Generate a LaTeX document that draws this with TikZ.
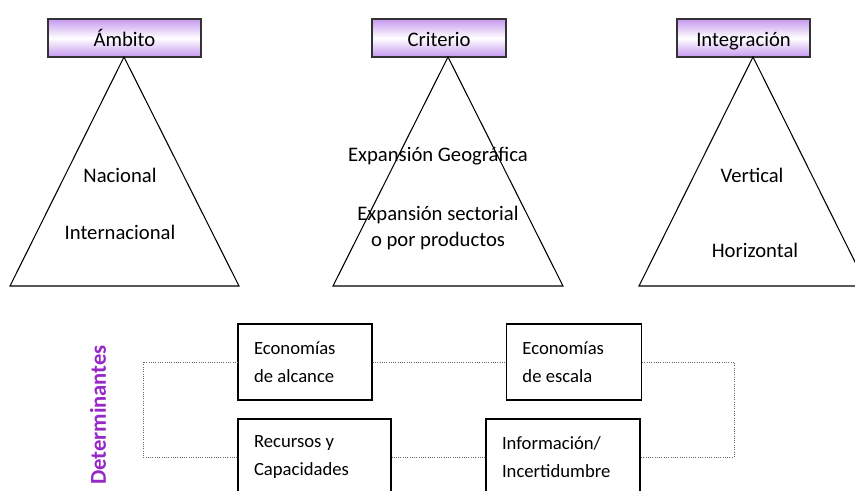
\documentclass[tikz,border=0pt]{standalone}
\usepackage{fontspec}
\setmainfont{Carlito}
\usetikzlibrary{positioning}

\definecolor{hdrviolet}{RGB}{198,152,240}
\definecolor{detpurple}{RGB}{150,40,200}

\begin{document}
\begin{tikzpicture}[x=0.75pt,y=-0.75pt,line width=0.8pt]
  \tikzstyle{header}=[draw=black!80,line width=1.1pt,top color=hdrviolet,bottom color=hdrviolet,middle color=white,minimum height=28.5pt,inner sep=0pt,text height=13pt,text depth=0pt,font=\fontsize{15.5}{18}\selectfont]
  \tikzstyle{tritext}=[font=\fontsize{15.5}{19}\selectfont,align=center]
  \tikzstyle{detbox}=[draw,line width=1.1pt,minimum height=57pt,inner xsep=12pt,align=flush left,font=\fontsize{14}{21}\selectfont]
  \tikzstyle{ringline}=[densely dotted,black!60,line width=0.7pt]

  \clip (0,0) rectangle (855,491);

  % headers
  \node[header,minimum width=114.75pt] (amb) at (124.5,38) {Ámbito};
  \node[header,minimum width=100.5pt] (cri) at (439,38) {Criterio};
  \node[header,minimum width=99.75pt] (int) at (743.5,38) {Integración};

  % triangles
  \draw (124,57) -- (239,286) -- (10,286) -- cycle;
  \draw (448,57) -- (563,286) -- (333,286) -- cycle;
  \draw (753,57) -- (867,286) -- (639,286) -- cycle;

  \node[tritext] (nac) at (120,175) {Nacional};
  \node[tritext] (inter) at (120,232) {Internacional};
  \node[tritext] (geo) at (438,156) {Expansión Geográfica};
  \node[tritext] (sec) at (438,228) {Expansión sectorial\\o por productos};
  \node[tritext] (ver) at (752,175) {Vertical};
  \node[tritext] (hor) at (755,250) {Horizontal};

  % determinantes
  \node[rotate=90,text=detpurple,font=\fontsize{17}{20}\bfseries\selectfont] (det) at (98,415) {Determinantes};

  \node[detbox,text width=76.5pt] (alc) at (305,362) {Economías\\de alcance};
  \node[detbox,text width=77.25pt] (esc) [right=99.75pt of alc] {Economías\\de escala};
  \node[detbox,text width=90.75pt] (rec) at (314.5,457) {Recursos y\\Capacidades};
  \node[detbox,text width=91.5pt] (inf) at (563,457) {Información/\\Incertidumbre};

  \coordinate (nw) at (143,362);
  \coordinate (ne) at (734,362);
  \coordinate (se) at (734,457);
  \coordinate (sw) at (143,457);

  \draw[ringline] (alc) -- (esc);
  \draw[ringline] (esc) -- (ne) -- (se) -- (inf);
  \draw[ringline] (inf) -- (rec);
  \draw[ringline] (rec) -- (sw) -- (nw) -- (alc);
\end{tikzpicture}
\end{document}
